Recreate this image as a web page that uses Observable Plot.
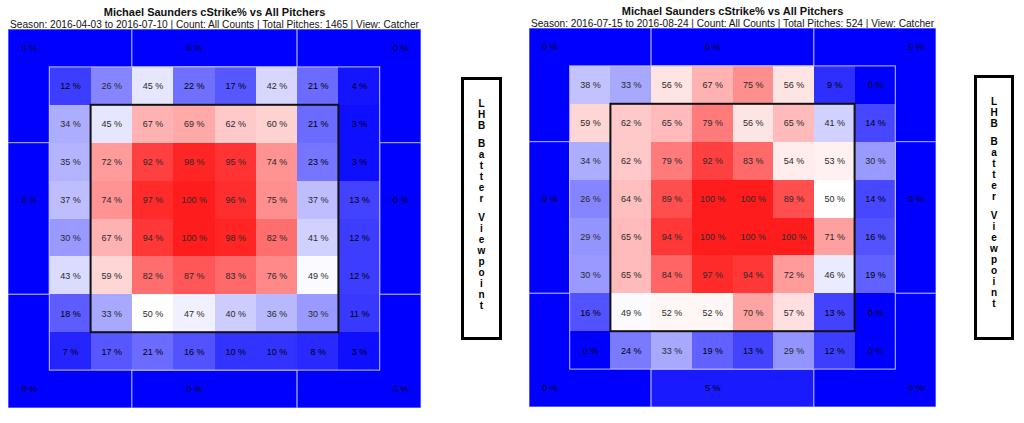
<!DOCTYPE html>
<html>
<head>
<meta charset="utf-8">
<script src="https://cdn.jsdelivr.net/npm/d3@7"></script>
<script src="https://cdn.jsdelivr.net/npm/@observablehq/plot@0.6"></script>
<style>
  html, body { margin: 0; padding: 0; background: #fff; }
  body { width: 1024px; height: 423px; position: relative; overflow: hidden; font-family: "Liberation Sans", Arial, sans-serif; }
  .title { position: absolute; text-align: center; white-space: nowrap; font-weight: bold; font-size: 11px; line-height: 11px; color: #111; }
  .subtitle { position: absolute; text-align: center; white-space: nowrap; font-size: 10.15px; line-height: 10px; color: #111; }
  .plot { position: absolute; }
  .vbox { position: absolute; box-sizing: border-box; border: 3px solid #000; background: #fff; padding-top: 17.5px; }
  .vbox div { height: 11px; line-height: 11px; text-align: center; font-weight: bold; font-size: 10px; color: #000; }
  .vbox div.sp { height: 7.8px; }
</style>
</head>
<body>
<script>
// ---- Data ----
const titleText = "Michael Saunders cStrike% vs All Pitchers";
const subtitles = [
  "Season: 2016-04-03 to 2016-07-10 | Count: All Counts | Total Pitches: 1465 | View: Catcher",
  "Season: 2016-07-15 to 2016-08-24 | Count: All Counts | Total Pitches: 524 | View: Catcher"
];
const sideLabel = "LHB Batter Viewpoint";

// inner 8x8 grid, rows top->bottom, cols left->right (percent)
const gridA = [
  [12, 26, 45, 22, 17, 42, 21, 4],
  [34, 45, 67, 69, 62, 60, 21, 3],
  [35, 72, 92, 98, 95, 74, 23, 3],
  [37, 74, 97, 100, 96, 75, 37, 13],
  [30, 67, 94, 100, 98, 82, 41, 12],
  [43, 59, 82, 87, 83, 76, 49, 12],
  [18, 33, 50, 47, 40, 36, 30, 11],
  [7, 17, 21, 16, 10, 10, 8, 3]
];
const gridB = [
  [38, 33, 56, 67, 75, 56, 9, 0],
  [59, 62, 65, 79, 56, 65, 41, 14],
  [34, 62, 79, 92, 83, 54, 53, 30],
  [26, 64, 89, 100, 100, 89, 50, 14],
  [29, 65, 94, 100, 100, 100, 71, 16],
  [30, 65, 84, 97, 94, 72, 46, 19],
  [16, 49, 52, 52, 70, 57, 13, 0],
  [0, 24, 33, 19, 13, 29, 12, 0]
];
// outer zones: TL, TM, TR, LM, RM, BL, BM, BR
const zoneNames = ["TL", "TM", "TR", "LM", "RM", "BL", "BM", "BR"];
const outerA = [0, 0, 0, 0, 0, 0, 0, 0];
const outerB = [0, 0, 0, 0, 0, 0, 5, 0];
// zone extents in grid units of the 10x10 layout (outer ring + 8x8 inner)
const zoneCols = [[0, 3], [3, 7], [7, 10], [0, 1], [9, 10], [0, 3], [3, 7], [7, 10]];
const zoneRows = [[0, 3], [0, 1], [0, 3], [3, 7], [3, 7], [7, 10], [9, 10], [7, 10]];
const zoneLabelCell = [[0, 0], [4, 0], [9, 0], [0, 4], [9, 4], [0, 9], [4, 9], [9, 9]];
const frames = [
  {name: "inner", c1: 1, c2: 9, r1: 1, r2: 9},
  {name: "strike", c1: 2, c2: 8, r1: 2, r2: 8}
];

// ---- Layout ----
const panels = [
  {grid: gridA, outer: outerA, sub: subtitles[0], left: 8, top: 29, w: 413, h: 379, tTop: 6.8, sTop: 19.5, box: {left: 461, top: 77, w: 41, h: 263}},
  {grid: gridB, outer: outerB, sub: subtitles[1], left: 529, top: 28, w: 407, h: 379, tTop: 6.3, sTop: 19, box: {left: 974, top: 75, w: 40, h: 265}}
];

const colorScale = {type: "linear", domain: [0, 50, 100], range: ["#0000ff", "#ffffff", "#ff1c1c"], interpolate: "rgb"};

function makePanel(p) {
  const cells = [];
  p.grid.forEach((row, r) => row.forEach((v, c) => cells.push({c: c + 1, r: r + 1, v})));
  const zones = zoneNames.map((n, i) => ({
    n, v: p.outer[i],
    c1: zoneCols[i][0], c2: zoneCols[i][1], r1: zoneRows[i][0], r2: zoneRows[i][1],
    lc: zoneLabelCell[i][0] + 0.5, lr: zoneLabelCell[i][1] + 0.5
  }));
  const fr = frames.filter(f => f.name === "inner");
  const sz = frames.filter(f => f.name === "strike");
  return Plot.plot({
    width: p.w, height: p.h, margin: 0,
    x: {domain: [0, 10], axis: null},
    y: {domain: [0, 10], reverse: true, axis: null},
    color: colorScale,
    style: {fontFamily: "'Liberation Sans', Arial, sans-serif", background: "transparent"},
    marks: [
      Plot.rect(zones, {x1: "c1", x2: "c2", y1: "r1", y2: "r2", fill: "v", stroke: "#a8a8f4", strokeWidth: 1}),
      Plot.rect(cells, {x1: "c", x2: d => d.c + 1, y1: "r", y2: d => d.r + 1, fill: "v", shapeRendering: "crispEdges"}),
      Plot.rect(fr, {x1: "c1", x2: "c2", y1: "r1", y2: "r2", fill: "none", stroke: "#c4c4f0", strokeWidth: 1}),
      Plot.rect(sz, {x1: "c1", x2: "c2", y1: "r1", y2: "r2", fill: "none", stroke: "#111", strokeWidth: 2}),
      Plot.text(zones, {x: "lc", y: "lr", text: d => d.v + " %", fill: "#000", fontSize: 9}),
      Plot.text(cells, {x: d => d.c + 0.5, y: d => d.r + 0.5, text: d => d.v + " %", fill: d => d.v < 25 ? "#000" : "#2a2a2a", fontSize: 9})
    ]
  });
}

panels.forEach(p => {
  const t = document.createElement("div");
  t.className = "title";
  t.style.left = p.left + "px"; t.style.width = p.w + "px"; t.style.top = p.tTop + "px";
  t.textContent = titleText;
  document.body.appendChild(t);

  const s = document.createElement("div");
  s.className = "subtitle";
  s.style.left = (p.left - 20) + "px"; s.style.width = (p.w + 40) + "px"; s.style.top = p.sTop + "px";
  s.textContent = p.sub;
  document.body.appendChild(s);

  const wrap = document.createElement("div");
  wrap.className = "plot";
  wrap.style.left = p.left + "px"; wrap.style.top = p.top + "px";
  wrap.appendChild(makePanel(p));
  document.body.appendChild(wrap);

  const b = document.createElement("div");
  b.className = "vbox";
  b.style.left = p.box.left + "px"; b.style.top = p.box.top + "px";
  b.style.width = p.box.w + "px"; b.style.height = p.box.h + "px";
  for (const ch of sideLabel) {
    const d = document.createElement("div");
    if (ch === " ") d.className = "sp"; else d.textContent = ch;
    b.appendChild(d);
  }
  document.body.appendChild(b);
});
</script>
</body>
</html>
